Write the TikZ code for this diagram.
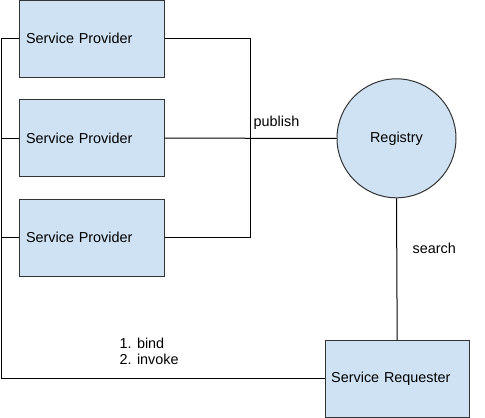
\documentclass[tikz,border=0pt]{standalone}
\usepackage{fontspec}
\setmainfont{Liberation Sans}
\definecolor{boxfill}{HTML}{CFE2F3}
\definecolor{edge}{HTML}{333333}
\begin{document}
\begin{tikzpicture}[x=1pt,y=-1pt,
  every node/.style={font=\fontsize{14.4}{17}\selectfont},
  svcbox/.style={draw=edge,fill=boxfill,line width=1pt,minimum width=145pt,minimum height=77pt,
    text width=131pt,align=left,inner xsep=7pt,inner ysep=0pt},
  lbl/.style={anchor=west,inner sep=0pt,align=left},
  conn/.style={draw=black,line width=1pt}]
\useasboundingbox (0,0) rectangle (485,418);
\node[svcbox] (p1) at (91.5,38.8) {Service Provider};
\node[svcbox] (p2) at (91.5,138.2) {Service Provider};
\node[svcbox] (p3) at (91.5,237.6) {Service Provider};
\node[draw=edge,fill=boxfill,line width=1pt,circle,minimum size=119pt,inner sep=0pt] (reg) at (396.5,138.3) {Registry};
\node[svcbox,minimum width=144pt,minimum height=77pt,text width=132pt,inner xsep=6pt] (req) at (397.2,378.8) {Service Requester};
\coordinate (busT) at (1,38.8);
\coordinate (pubT) at (250,38.8);
\draw[conn] (p1.west) -- (busT) |- (req.west);
\draw[conn] (p2.west) -- (p2.west -| busT);
\draw[conn] (p3.west) -- (p3.west -| busT);
\draw[conn] (p1.east) -| (pubT) |- (p3.east);
\draw[conn] (p2.east) -- (reg.west);
\draw[conn] (reg.south) -- (req.north);
\node[lbl] (pub) at (253.5,123) {publish};
\node[lbl] (srch) at (412.5,248) {search};
\node[lbl] (bind) at (119.5,351.5) {1. bind\\[-0.5pt]2. invoke};
\end{tikzpicture}
\end{document}
